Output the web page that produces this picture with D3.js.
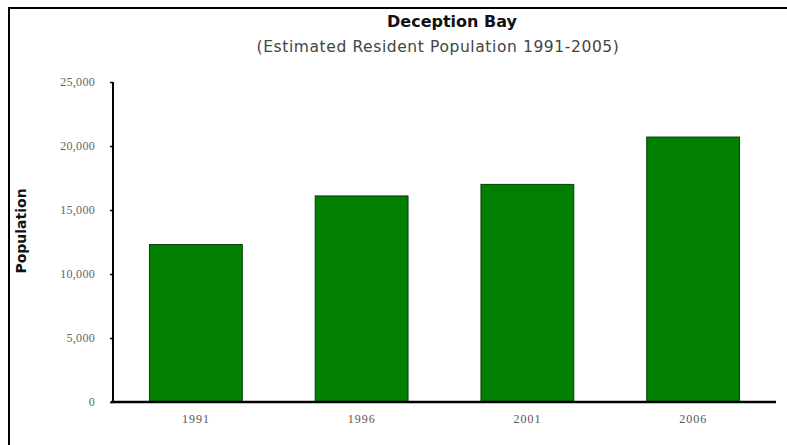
<!DOCTYPE html>
<html>
<head>
<meta charset="utf-8">
<script src="https://cdn.jsdelivr.net/npm/d3@7"></script>
<style>
  html, body { margin: 0; padding: 0; background: #fff; }
  svg { display: block; }
</style>
</head>
<body>
<svg id="chart" width="787" height="445"></svg>
<script>
const categories = ["1991", "1996", "2001", "2006"];
const population = [12300, 16100, 17000, 20700];
const yTicks = [0, 5000, 10000, 15000, 20000, 25000];
const titleText = "Deception Bay";
const subtitleText = "(Estimated Resident Population 1991-2005)";
const yAxisTitle = "Population";

const svg = d3.select("#chart");

// frame (top and left edges visible)
svg.append("line").attr("x1", 8).attr("x2", 787).attr("y1", 8).attr("y2", 8)
  .attr("stroke", "#000").attr("stroke-width", 2);
svg.append("line").attr("x1", 9).attr("x2", 9).attr("y1", 7).attr("y2", 445)
  .attr("stroke", "#000").attr("stroke-width", 2);

const x = d3.scaleBand().domain(categories).range([113, 776])
  .paddingInner(0.44).paddingOuter(0.22);
const y = d3.scaleLinear().domain([0, 25000]).range([402, 82]);

// bars
svg.append("g").selectAll("rect").data(categories).join("rect")
  .attr("x", d => x(d))
  .attr("y", (d, i) => y(population[i]))
  .attr("width", x.bandwidth())
  .attr("height", (d, i) => y(0) - y(population[i]))
  .attr("fill", "#007f00")
  .attr("stroke", "#0b3d0b")
  .attr("stroke-width", 1);

// y axis
const yAxis = d3.axisLeft(y).tickValues(yTicks).tickSize(3).tickPadding(15)
  .tickFormat(d3.format(","));
const gy = svg.append("g").attr("transform", "translate(113,0)").call(yAxis);
gy.select(".domain").attr("stroke", "#000").attr("stroke-width", 2).attr("d", "M0,82V402");
gy.selectAll(".tick line").attr("stroke", "#000").attr("stroke-width", 1.5);
gy.selectAll("text").attr("font-family", "'Liberation Serif', serif").attr("font-size", 12)
  .attr("letter-spacing", 0.3).attr("fill", "#666");

// x axis
const xAxis = d3.axisBottom(x).tickSize(0).tickPadding(12);
const gx = svg.append("g").attr("transform", "translate(0,402)").call(xAxis);
gx.select(".domain").attr("stroke", "#000").attr("stroke-width", 2.5).attr("d", "M111,0H776");
gx.selectAll("text").attr("font-family", "'Liberation Serif', serif").attr("font-size", 12)
  .attr("letter-spacing", 1).attr("fill", "#555");

// titles
svg.append("text").attr("x", 452).attr("y", 27).attr("text-anchor", "middle")
  .attr("font-family", "'DejaVu Sans', sans-serif").attr("font-weight", "bold")
  .attr("font-size", 16).attr("fill", "#111").text(titleText);
svg.append("text").attr("x", 438).attr("y", 52).attr("text-anchor", "middle")
  .attr("font-family", "'DejaVu Sans', sans-serif")
  .attr("font-size", 15.5).attr("letter-spacing", 0.6)
  .attr("fill", "#444").text(subtitleText);

// y axis title
svg.append("text").attr("transform", "translate(26,231) rotate(-90)")
  .attr("text-anchor", "middle")
  .attr("font-family", "'DejaVu Sans', sans-serif").attr("font-weight", "bold")
  .attr("font-size", 14).attr("fill", "#111").text(yAxisTitle);
</script>
</body>
</html>
